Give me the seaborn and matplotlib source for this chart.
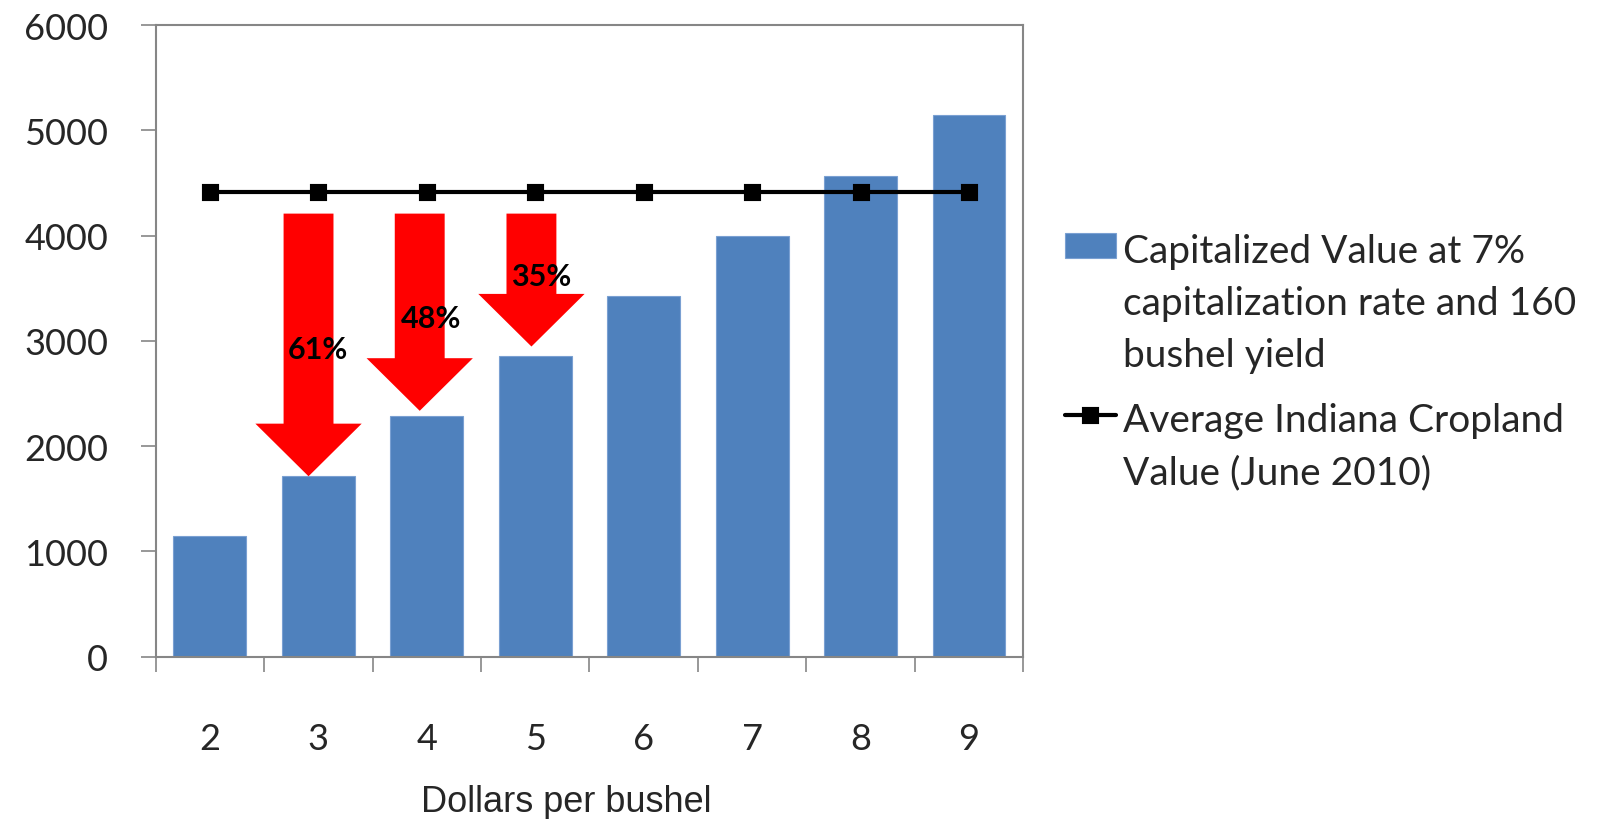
import matplotlib
matplotlib.use("Agg")
import matplotlib.pyplot as plt
import pandas as pd
import seaborn as sns
from matplotlib.patches import FancyArrow
from matplotlib.ticker import FixedLocator

# Corn price scenarios and land values ($/acre)
price = [2, 3, 4, 5, 6, 7, 8, 9]
capitalized_value = [1143, 1714, 2286, 2857, 3429, 4000, 4571, 5143]
cropland_value = [4420, 4420, 4420, 4420, 4420, 4420, 4420, 4420]

# Prices at which the drop from the average cropland value is highlighted
drop_prices = [3, 4, 5]

bar_label = "Capitalized Value at 7%\ncapitalization rate and 160\nbushel yield"
line_label = "Average Indiana Cropland\nValue (June 2010)"

sns.set_theme(style="white")
plt.rcParams["font.family"] = ["Lato", "DejaVu Sans"]

df = pd.DataFrame({
    "price": [str(p) for p in price],
    "value": capitalized_value,
    "average": cropland_value,
})

fig = plt.figure(figsize=(16.04, 8.2), dpi=100)
ax = fig.add_axes([0.097, 0.198, 0.541, 0.770])

sns.barplot(data=df, x="price", y="value", color="#4F81BD", saturation=1,
            width=0.67, edgecolor="#7AA0D2", linewidth=0.8, ax=ax,
            label=bar_label)
sns.pointplot(data=df, x="price", y="average", color="black", markers="s",
              linestyles="-", errorbar=None, markersize=10, linewidth=3,
              ax=ax, label=line_label)

# Red arrows from the average value down to each highlighted bar
arrow_top = 4210
arrow_gap = [0, 50, 90]
arrow_dx = [-0.09, -0.065, -0.035]
label_y = [2925, 3220, 3620]
label_dx = [0.0, 0.04, 0.05]
for k, p in enumerate(drop_prices):
    i = price.index(p)
    v = capitalized_value[i]
    avg = cropland_value[i]
    tip = v + arrow_gap[k]
    ax.add_patch(FancyArrow(i + arrow_dx[k], arrow_top, 0, tip - arrow_top,
                            width=0.46, head_width=0.98, head_length=500,
                            length_includes_head=True, color="#FF0000",
                            lw=0, zorder=3))
    pct = round((avg - v) / avg * 100)
    ax.text(i + label_dx[k], label_y[k], f"{pct}%", ha="center", va="center",
            fontsize=22, fontweight="bold", color="black", zorder=4)

ax.set_xlim(-0.5, len(price) - 0.5)
ax.set_ylim(0, 6000)
ax.set_yticks(range(0, 6001, 1000))
ax.set_ylabel("")
ax.set_xlabel("Dollars per bushel", fontsize=26,
              fontfamily=["Liberation Sans", "DejaVu Sans"])
ax.xaxis.set_label_coords(0.4727, -0.2017)

for s in ax.spines.values():
    s.set_visible(True)
    s.set_color("#868686")
    s.set_linewidth(1.5)

ax.tick_params(axis="y", which="major", direction="out", length=11,
               width=1.2, color="#868686", pad=23, labelsize=26, left=True)
ax.tick_params(axis="x", which="major", length=0, pad=47, labelsize=26)
ax.xaxis.set_minor_locator(FixedLocator([x - 0.5 for x in range(len(price) + 1)]))
ax.tick_params(axis="x", which="minor", direction="out", length=11,
               width=1.2, color="#868686", bottom=True)

# Legend: bars first, then the average-value line
handles, labels = ax.get_legend_handles_labels()
order = [labels.index(bar_label), labels.index(line_label)]
leg = ax.legend([handles[j] for j in order], [labels[j] for j in order],
                loc="center left", bbox_to_anchor=(0.664, 0.558),
                bbox_transform=fig.transFigure, frameon=False, fontsize=28,
                handlelength=1.3, handleheight=0.6, handletextpad=0.2,
                labelspacing=0.75, borderpad=0, borderaxespad=0)
for t in leg.get_texts():
    t.set_linespacing(1.55)
# keep each legend key level with the first line of its label
for col in leg._legend_handle_box.get_children():
    for item in col.get_children():
        item.align = "top"

fig.savefig("out.png", dpi=100, facecolor="white")
